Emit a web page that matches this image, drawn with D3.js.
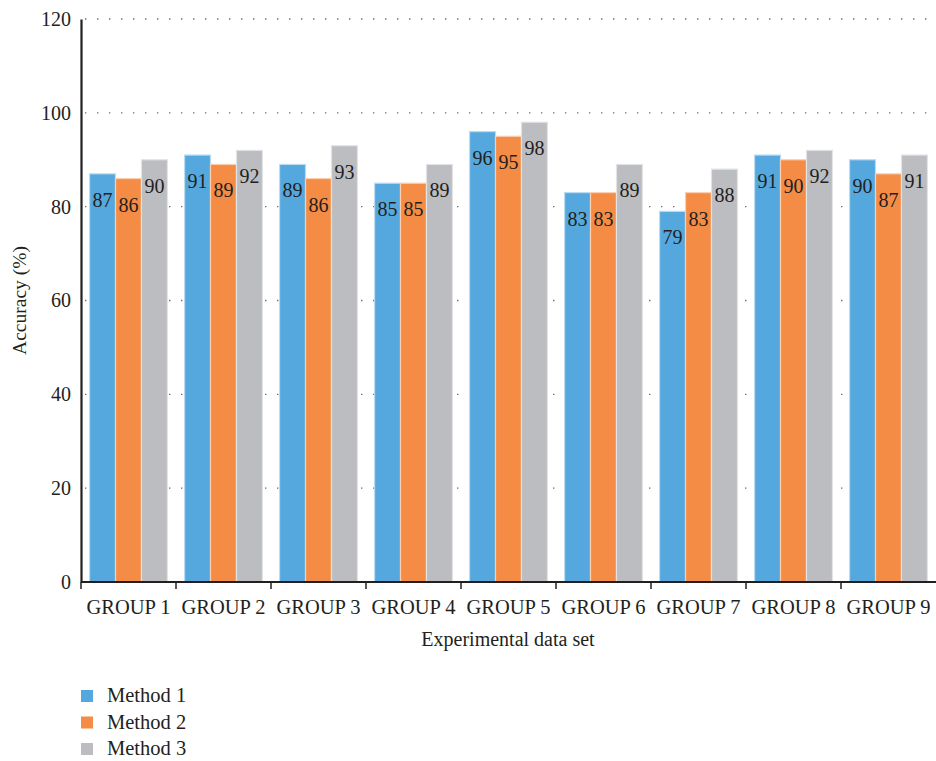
<!DOCTYPE html>
<html>
<head>
<meta charset="utf-8">
<script src="https://cdn.jsdelivr.net/npm/d3@7/dist/d3.min.js"></script>
<style>
  body { margin: 0; background: #fff; }
  text { font-family: "Liberation Serif", "DejaVu Serif", serif; fill: #231f20; }
</style>
</head>
<body>
<svg id="chart" width="936" height="761"></svg>
<script>
// data
var groups = ["GROUP 1", "GROUP 2", "GROUP 3", "GROUP 4", "GROUP 5", "GROUP 6", "GROUP 7", "GROUP 8", "GROUP 9"];
var methods = ["Method 1", "Method 2", "Method 3"];
var method1 = [87, 91, 89, 85, 96, 83, 79, 91, 90];
var method2 = [86, 89, 86, 85, 95, 83, 83, 90, 87];
var method3 = [90, 92, 93, 89, 98, 89, 88, 92, 91];
var yTicks = [0, 20, 40, 60, 80, 100, 120];

var colors = ["#55a8de", "#f58c45", "#bcbdc0"];
var strokes = ["#b9dcf2", "#fbcfae", "#e2e3e5"];

var dim = { left: 81, right: 936, top: 19, bottom: 582 };
var svg = d3.select("#chart");

var series = [method1, method2, method3];

var xScale = d3.scaleBand()
               .domain(groups)
               .range([dim.left, dim.right])
               .paddingInner(0.18)
               .paddingOuter(0.09);
var xSub = d3.scaleBand()
             .domain(methods)
             .range([0, xScale.bandwidth()]);
var yScale = d3.scaleLinear()
               .domain([0, 120])
               .range([dim.bottom, dim.top]);

// dotted grid lines
svg.append("g")
   .selectAll("line")
   .data(yTicks.filter(function(d) { return d > 0; }))
   .enter().append("line")
   .attr("x1", dim.left + 4)
   .attr("x2", dim.right)
   .attr("y1", function(d) { return yScale(d); })
   .attr("y2", function(d) { return yScale(d); })
   .style("stroke", "#6d6e71")
   .style("stroke-width", 1.4)
   .style("stroke-dasharray", "1.4,10.6");

// bars
var gGroup = svg.append("g")
   .selectAll("g")
   .data(groups)
   .enter().append("g")
   .attr("transform", function(d) { return "translate(" + xScale(d) + ",0)"; });

gGroup.selectAll("rect")
   .data(function(d, i) { return series.map(function(s, j) { return { m: j, v: s[i] }; }); })
   .enter().append("rect")
   .attr("x", function(d) { return xSub(methods[d.m]); })
   .attr("width", xSub.bandwidth())
   .attr("y", function(d) { return yScale(d.v); })
   .attr("height", function(d) { return dim.bottom - yScale(d.v); })
   .style("fill", function(d) { return colors[d.m]; })
   .style("stroke", function(d) { return strokes[d.m]; })
   .style("stroke-width", 1.2);

gGroup.selectAll("text")
   .data(function(d, i) { return series.map(function(s, j) { return { m: j, v: s[i] }; }); })
   .enter().append("text")
   .attr("x", function(d) { return xSub(methods[d.m]) + xSub.bandwidth() / 2; })
   .attr("y", function(d) { return yScale(d.v) + 33; })
   .attr("text-anchor", "middle")
   .style("font-size", "20px")
   .text(function(d) { return d.v; });

// y axis
var yAxis = d3.axisLeft(yScale).tickValues(yTicks).tickSize(0).tickPadding(10);
var gy = svg.append("g")
   .attr("transform", "translate(" + dim.left + ",0)")
   .call(yAxis);
gy.select(".domain").style("stroke", "#231f20").style("stroke-width", 2.2);
gy.selectAll("text").style("font-size", "20px").attr("font-family", null);

// x axis
var xAxis = d3.axisBottom(xScale).tickSize(0).tickPadding(17);
var gx = svg.append("g")
   .attr("transform", "translate(0," + dim.bottom + ")")
   .call(xAxis);
gx.select(".domain").attr("d", "M" + dim.left + ",0H" + dim.right).style("stroke", "#231f20").style("stroke-width", 2.2);
gx.selectAll("text").style("font-size", "20.5px").attr("font-family", null);

// tick marks at band boundaries
var bounds = groups.map(function(g) { return xScale(g) - xScale.step() * xScale.paddingInner() / 2; });
gx.selectAll(".bound")
   .data(bounds)
   .enter().append("line")
   .attr("class", "bound")
   .attr("x1", function(d) { return d; })
   .attr("x2", function(d) { return d; })
   .attr("y1", 0)
   .attr("y2", 7)
   .style("stroke", "#231f20")
   .style("stroke-width", 1.5);

// axis titles
svg.append("text")
   .attr("transform", "translate(26," + ((dim.top + dim.bottom) / 2) + ") rotate(-90)")
   .attr("text-anchor", "middle")
   .style("font-size", "19.5px")
   .text("Accuracy (%)");

svg.append("text")
   .attr("x", 508)
   .attr("y", 646)
   .attr("text-anchor", "middle")
   .style("font-size", "20px")
   .text("Experimental data set");

// legend
var legend = svg.append("g")
   .selectAll("g")
   .data(methods)
   .enter().append("g")
   .attr("transform", function(d, i) { return "translate(81," + (690 + i * 26.5) + ")"; });
legend.append("rect")
   .attr("width", 12)
   .attr("height", 12)
   .style("fill", function(d, i) { return colors[i]; });
legend.append("text")
   .attr("x", 26)
   .attr("y", 12)
   .style("font-size", "20.5px")
   .text(function(d) { return d; });
</script>
</body>
</html>
